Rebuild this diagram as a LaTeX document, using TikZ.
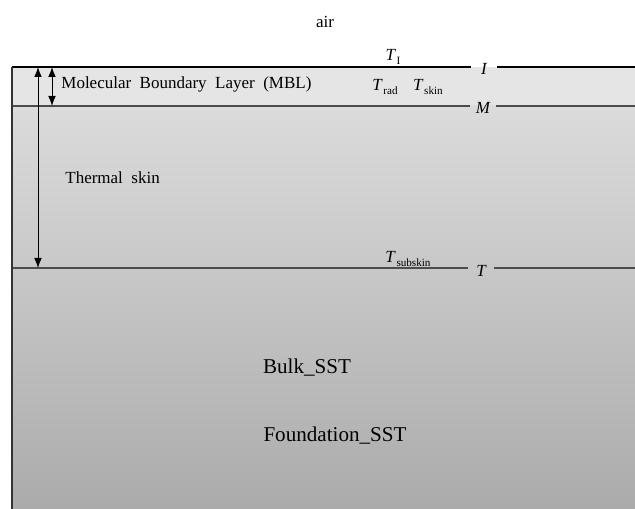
\documentclass[tikz,border=0pt]{standalone}
\usepackage{fontspec}
\setmainfont{Liberation Serif}
\usepackage{tikz}
\usetikzlibrary{arrows.meta,positioning}
\newcommand{\Tsym}[1]{\textit{T}\kern0.5pt\raisebox{-0.5ex}{\fontsize{9.5}{10}\selectfont #1}}

\begin{document}
\begin{tikzpicture}[
    x=0.03cm, y=-0.03cm,
    lbl/.style={font=\fontsize{14.5}{16}\selectfont, inner sep=1pt},
    big/.style={font=\fontsize{18}{20}\selectfont, inner sep=1pt},
    lev/.style={font=\fontsize{14.5}{16}\selectfont\itshape, inner sep=1pt, minimum width=26*0.03cm},
    surf/.style={draw=black!70, line width=1pt},
    arr/.style={{Latex[length=3mm,width=2.3mm]}-{Latex[length=3mm,width=2.3mm]}, line width=0.8pt}
]
\useasboundingbox (0,0) rectangle (635,509);
% water column
\fill[black!10] (12,67) rectangle (635,106);
\shade[top color=black!14, bottom color=black!33] (12,106) rectangle (635,509);

\coordinate (iL) at (12,67);  \coordinate (iR) at (635,67);
\coordinate (mL) at (12,106); \coordinate (mR) at (635,106);
\coordinate (tL) at (12,268); \coordinate (tR) at (635,268);
\coordinate (bot) at (12,509);

\node[lev] (levI) at (484,69) {I};
\node[lev] (levM) at (483,108) {M};
\node[lev] (levT) at (481,271) {T};

\draw[black, line width=1pt] (iL) -- (iL -| levI.west) (iR -| levI.east) -- (iR);
\draw[surf] (mL) -- (mL -| levM.west) (mR -| levM.east) -- (mR);
\draw[surf] (tL) -- (tL -| levT.west) (tR -| levT.east) -- (tR);
\draw[black!80, line width=1pt] (iL) -- (bot);

\node[lbl] (air) at (325,22) {air};
\node[lbl, anchor=west] (mbl) at (60,84) {Molecular\ \ Boundary\ \ Layer\ \ (MBL)};
\node[lbl, anchor=west] (skin) at (64,178) {Thermal\ \ skin};
\node[lbl] (tI) at (393,57) {\Tsym{I}};
\node[lbl] (trad) at (385,87) {\Tsym{rad}};
\node[lbl] (tskin) at (428,87) {\Tsym{skin}};
\node[lbl] (tsub) at (408,259) {\Tsym{subskin}};
\node[big] (bulk) at (307,368) {Bulk\_SST};
\node[big] (found) at (335,436) {Foundation\_SST};

\coordinate (a1) at (38,67);  \coordinate (a2) at (38,268);
\coordinate (b1) at (52,67);  \coordinate (b2) at (52,106);
\draw[arr] (a1) -- (a2);
\draw[arr] (b1) -- (b2);
\end{tikzpicture}
\end{document}
